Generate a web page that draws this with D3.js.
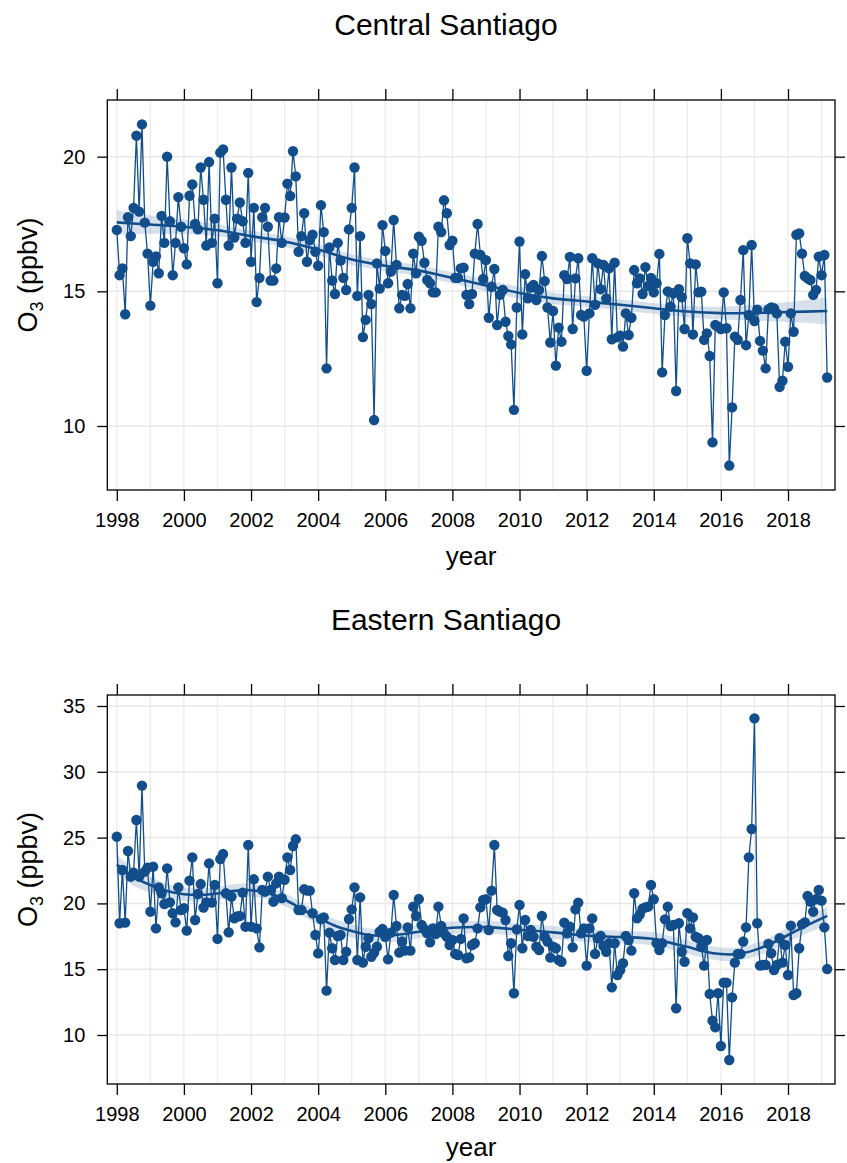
<!DOCTYPE html>
<html>
<head>
<meta charset="utf-8">
<script src="https://cdn.jsdelivr.net/npm/d3@7"></script>
<style>
  html, body { margin: 0; padding: 0; background: #fff; }
  svg { display: block; font-family: "Liberation Sans", Arial, Helvetica, sans-serif; }
</style>
</head>
<body>
<svg id="chart" width="847" height="1163"></svg>
<script>
// Monthly mean O3 (ppbv), January 1998 onwards, one row per year
const firstYear = 1998;

const centralO3 = [
  17.28, 15.6, 15.85, 14.15, 17.75, 17.05, 18.1, 20.78, 17.96, 21.2, 17.55, 16.4,
  14.47, 16.1, 16.3, 15.67, 17.8, 16.8, 20.0, 17.6, 15.6, 16.8, 18.5, 17.4,
  16.6, 16.0, 18.55, 18.97, 17.5, 17.3, 19.6, 18.4, 16.7, 19.8, 16.8, 17.7,
  15.3, 20.15, 20.27, 18.4, 16.7, 19.6, 17.0, 17.7, 18.3, 17.6, 16.8, 19.4,
  16.1, 18.1, 14.6, 15.5, 17.75, 18.1, 17.4, 15.4, 15.4, 15.85, 17.75, 16.8,
  17.74, 19.0, 18.54, 20.2, 19.27, 16.47, 17.05, 17.9, 16.1, 16.9, 17.1, 16.47,
  15.95, 18.2, 17.2, 12.14, 16.63, 15.4, 14.9, 16.8, 16.14, 15.5, 15.05, 17.3,
  18.1, 19.6, 14.83, 17.05, 13.3, 13.94, 14.87, 14.53, 10.22, 16.04, 15.1, 17.46,
  16.5, 15.3, 15.73, 17.65, 15.98, 14.37, 14.87, 14.83, 15.27, 14.37, 16.4, 15.67,
  17.03, 16.88, 16.06, 15.42, 15.3, 14.96, 14.96, 17.4, 17.2, 18.38, 17.9, 16.72,
  16.88, 15.5, 15.5, 15.85, 15.88, 14.87, 14.53, 14.9, 16.4, 17.5, 16.35, 15.46,
  16.16, 14.02, 15.17, 15.83, 13.75, 14.87, 15.05, 13.87, 13.34, 13.03, 10.6, 14.4,
  16.85, 13.4, 15.64, 14.74, 15.14, 15.24, 14.68, 15.05, 16.31, 15.38, 14.4, 13.1,
  14.27, 12.24, 13.65, 13.13, 15.6, 15.46, 16.28, 13.6, 15.48, 16.23, 14.12, 14.06,
  12.05, 14.18, 16.23, 14.5, 16.04, 15.08, 15.98, 14.74, 15.85, 13.22, 16.06, 13.29,
  13.35, 12.95, 14.18, 13.38, 14.02, 15.79, 15.3, 15.48, 14.9, 15.9, 15.2, 15.5,
  14.96, 15.3, 16.39, 11.99, 14.12, 15.0, 14.43, 14.93, 11.3, 15.08, 14.78, 13.6,
  16.97, 16.04, 13.4, 16.0, 14.96, 14.99, 13.2, 13.44, 12.6, 9.39, 13.75, 13.69,
  13.6, 14.96, 13.63, 8.53, 10.69, 13.32, 13.2, 14.68, 16.53, 13.0, 14.12, 16.72,
  13.9, 14.32, 13.16, 12.8, 12.14, 14.33, 14.4, 14.37, 14.18, 11.45, 11.68, 13.13,
  12.2, 14.18, 13.5, 17.1, 17.15, 16.4, 15.57, 15.48, 15.42, 14.87, 15.05, 16.29,
  15.6, 16.35, 11.8
];

const easternO3 = [
  25.07, 18.49, 22.54, 18.54, 23.98, 22.03, 22.34, 26.34, 22.03, 28.95, 22.41, 22.72,
  19.37, 22.79, 18.1, 21.22, 20.77, 19.95, 22.66, 20.08, 19.25, 18.56, 21.22, 19.5,
  19.63, 17.93, 21.73, 23.5, 18.74, 20.71, 21.47, 19.68, 20.08, 23.04, 20.06, 21.4,
  17.3, 23.37, 23.75, 20.77, 17.8, 20.51, 18.87, 19.0, 19.04, 20.82, 18.23, 24.44,
  18.23, 21.83, 18.1, 16.66, 21.02, 20.89, 22.03, 21.02, 20.13, 21.52, 22.03, 20.4,
  21.8, 23.5, 22.54, 24.36, 24.87, 19.5, 19.5, 21.07, 20.97, 20.97, 19.25, 17.6,
  16.2, 18.81, 18.94, 13.37, 17.78, 16.59, 15.7, 17.52, 17.6, 15.7, 16.33, 18.81,
  19.55, 21.22, 15.7, 20.46, 15.5, 16.71, 17.35, 15.95, 16.26, 16.71, 17.85, 18.05,
  17.47, 15.75, 17.78, 20.64, 18.28, 16.26, 17.1, 16.41, 18.18, 16.41, 19.75, 19.04,
  20.33, 18.36, 18.03, 17.72, 17.04, 18.1, 17.67, 19.75, 18.28, 17.72, 17.47, 16.84,
  17.22, 16.16, 16.08, 17.3, 18.86, 15.83, 15.9, 16.84, 16.97, 18.1, 19.7, 20.26,
  20.31, 17.98, 20.97, 24.44, 19.5, 19.37, 19.3, 18.74, 16.0, 16.97, 13.17, 18.03,
  19.88, 16.59, 18.74, 17.52, 17.98, 17.47, 16.71, 16.46, 19.04, 17.47, 17.1, 15.88,
  16.71, 16.59, 15.7, 15.57, 18.54, 17.72, 18.23, 16.66, 19.55, 20.06, 17.72, 18.1,
  15.27, 18.1, 18.86, 16.16, 17.35, 17.52, 16.76, 16.33, 16.97, 13.62, 16.97, 14.56,
  14.94, 15.45, 17.52, 17.22, 16.41, 20.77, 18.86, 19.15, 19.6, 19.7, 19.75, 21.4,
  20.31, 16.97, 16.46, 16.97, 18.79, 19.75, 18.28, 18.36, 12.03, 18.49, 16.33, 15.57,
  19.25, 18.1, 18.94, 17.47, 17.35, 16.71, 15.27, 17.22, 13.12, 11.09, 10.58, 13.17,
  9.16, 13.98, 13.98, 8.1, 12.86, 15.5, 16.16, 16.16, 17.1, 18.18, 23.5, 25.65,
  34.06, 18.49, 15.27, 15.32, 15.32, 16.92, 16.21, 14.94, 15.32, 17.35, 15.5, 16.84,
  14.56, 18.31, 13.04, 13.17, 16.59, 18.41, 18.56, 20.56, 20.13, 19.37, 20.31, 21.02,
  20.21, 18.18, 15.01
];

// Smooth trend with its confidence band (centre and half-width, ppbv)
const centralTrendYear = [1998, 1999, 2000, 2001, 2002, 2003, 2004, 2005, 2006, 2007, 2008,
  2009, 2010, 2011, 2012, 2013, 2014, 2015, 2016, 2017, 2018, 2019.17];
const centralTrend = [17.56, 17.48, 17.4, 17.27, 17.05, 16.85, 16.55, 16.18, 15.95, 15.77, 15.5,
  15.22, 14.94, 14.74, 14.62, 14.5, 14.37, 14.25, 14.19, 14.2, 14.23, 14.27];
const centralBand = [0.45, 0.34, 0.27, 0.22, 0.2, 0.2, 0.2, 0.2, 0.2, 0.2, 0.21,
  0.22, 0.22, 0.21, 0.2, 0.2, 0.2, 0.21, 0.24, 0.29, 0.37, 0.5];

const easternTrendYear = [1998, 1998.5, 1999, 1999.5, 2000, 2000.5, 2001, 2001.5, 2002, 2002.5,
  2003, 2003.5, 2004, 2004.5, 2005, 2005.5, 2006, 2006.5, 2007, 2008, 2009, 2010, 2011, 2012,
  2013, 2014, 2014.5, 2015, 2015.5, 2016, 2016.5, 2017, 2017.5, 2018, 2018.5, 2019.17];
const easternTrend = [22.95, 22.0, 21.4, 20.95, 20.7, 20.65, 20.75, 20.95, 21.0, 20.8,
  20.3, 19.6, 18.9, 18.3, 17.9, 17.6, 17.55, 17.65, 17.85, 18.15, 18.2, 18.0, 17.8, 17.55,
  17.45, 17.3, 17.0, 16.7, 16.35, 16.15, 16.15, 16.45, 16.95, 17.6, 18.25, 19.05];
const easternBand = [0.75, 0.65, 0.58, 0.54, 0.5, 0.5, 0.5, 0.5, 0.5, 0.5,
  0.5, 0.5, 0.5, 0.5, 0.5, 0.5, 0.5, 0.5, 0.5, 0.48, 0.48, 0.48, 0.48, 0.48,
  0.48, 0.5, 0.5, 0.5, 0.5, 0.5, 0.5, 0.5, 0.52, 0.55, 0.6, 0.68];

// Axis ticks
const yearTicks = [1998, 2000, 2002, 2004, 2006, 2008, 2010, 2012, 2014, 2016, 2018];
const gridYears = d3.range(1998, 2020);
const centralTicks = [10, 15, 20];
const easternTicks = [10, 15, 20, 25, 30, 35];

// ---------------------------------------------------------------------------
const ink = "#124E8C";
const fontFamily = '"Liberation Sans", Arial, Helvetica, sans-serif';
const svg = d3.select("#chart");
svg.append("rect").attr("width", 847).attr("height", 1163).attr("fill", "#fff");

const plotLeft = 107.3, plotRight = 835;
const x = d3.scaleLinear().domain([1997.717, 2019.4]).range([plotLeft, plotRight]);

const panels = [
  { title: "Central Santiago", values: centralO3, ticks: centralTicks,
    trendYear: centralTrendYear, trend: centralTrend, band: centralBand,
    top: 100, bottom: 490, domain: [7.623, 22.105] },
  { title: "Eastern Santiago", values: easternO3, ticks: easternTicks,
    trendYear: easternTrendYear, trend: easternTrend, band: easternBand,
    top: 695, bottom: 1084, domain: [6.277, 35.836] }
];

function styleAxis(sel, fontSize) {
  sel.select(".domain").remove();
  sel.attr("font-family", fontFamily).attr("font-size", fontSize);
  sel.selectAll(".tick line").attr("stroke", "#000").attr("stroke-width", 1.3);
  sel.selectAll(".tick text").attr("fill", "#000");
}

panels.forEach(p => {
  const y = d3.scaleLinear().domain(p.domain).range([p.bottom, p.top]);
  const g = svg.append("g");

  // background grid
  g.append("g").selectAll("line").data(gridYears).join("line")
    .attr("x1", d => x(d)).attr("x2", d => x(d))
    .attr("y1", p.top).attr("y2", p.bottom)
    .attr("stroke", "#ebebeb").attr("stroke-width", 1.3);
  g.append("g").selectAll("line").data(p.ticks).join("line")
    .attr("x1", plotLeft).attr("x2", plotRight)
    .attr("y1", d => y(d)).attr("y2", d => y(d))
    .attr("stroke", "#e8e8e8").attr("stroke-width", 1.5);

  // smooth trend and its confidence band
  const trendPts = p.trendYear.map((t, i) => ({ t, v: p.trend[i], h: p.band[i] }));
  const curve = d3.curveCatmullRom.alpha(0.5);
  g.append("path").datum(trendPts)
    .attr("d", d3.area().x(d => x(d.t)).y0(d => y(d.v - d.h)).y1(d => y(d.v + d.h)).curve(curve))
    .attr("fill", ink).attr("fill-opacity", 0.17);
  g.append("path").datum(trendPts)
    .attr("d", d3.line().x(d => x(d.t)).y(d => y(d.v)).curve(curve))
    .attr("fill", "none").attr("stroke", ink).attr("stroke-width", 2.6);

  // monthly series
  const pts = p.values.map((v, i) => ({ t: firstYear + i / 12, v }));
  g.append("path").datum(pts)
    .attr("d", d3.line().x(d => x(d.t)).y(d => y(d.v)))
    .attr("fill", "none").attr("stroke", ink).attr("stroke-width", 1.3)
    .attr("stroke-linejoin", "round");
  g.append("g").selectAll("circle").data(pts).join("circle")
    .attr("cx", d => x(d.t)).attr("cy", d => y(d.v)).attr("r", 5.2)
    .attr("fill", ink);

  // panel frame
  g.append("rect")
    .attr("x", plotLeft).attr("y", p.top)
    .attr("width", plotRight - plotLeft).attr("height", p.bottom - p.top)
    .attr("fill", "none").attr("stroke", "#000").attr("stroke-width", 1.3);

  // axes on all four sides, labels on bottom and left
  g.append("g").attr("transform", `translate(0,${p.bottom})`)
    .call(d3.axisBottom(x).tickValues(yearTicks).tickFormat(d3.format("d"))
      .tickSize(11).tickSizeOuter(0).tickPadding(12))
    .call(s => styleAxis(s, 20));
  g.append("g").attr("transform", `translate(0,${p.top})`)
    .call(d3.axisTop(x).tickValues(yearTicks).tickFormat("")
      .tickSize(11).tickSizeOuter(0))
    .call(s => styleAxis(s, 20));
  g.append("g").attr("transform", `translate(${plotLeft},0)`)
    .call(d3.axisLeft(y).tickValues(p.ticks).tickFormat(d3.format("d"))
      .tickSize(10).tickSizeOuter(0).tickPadding(12))
    .call(s => styleAxis(s, 20));
  g.append("g").attr("transform", `translate(${plotRight},0)`)
    .call(d3.axisRight(y).tickValues(p.ticks).tickFormat("")
      .tickSize(10).tickSizeOuter(0))
    .call(s => styleAxis(s, 20));

  // titles
  g.append("text").attr("x", 446).attr("y", p.top - 65)
    .attr("text-anchor", "middle").attr("font-size", 30).attr("fill", "#000")
    .text(p.title);
  g.append("text").attr("x", (plotLeft + plotRight) / 2)
    .attr("y", Math.min(p.bottom + 75, 1156))
    .attr("text-anchor", "middle").attr("font-size", 26).attr("fill", "#000")
    .text("year");
  const yl = g.append("text")
    .attr("transform", `translate(37,${(p.top + p.bottom) / 2 - 20}) rotate(-90)`)
    .attr("text-anchor", "middle").attr("font-size", 27).attr("fill", "#000");
  yl.append("tspan").text("O");
  yl.append("tspan").attr("font-size", 18).attr("dy", 6).text("3");
  yl.append("tspan").attr("dy", -6).text(" (ppbv)");
});
</script>
</body>
</html>
